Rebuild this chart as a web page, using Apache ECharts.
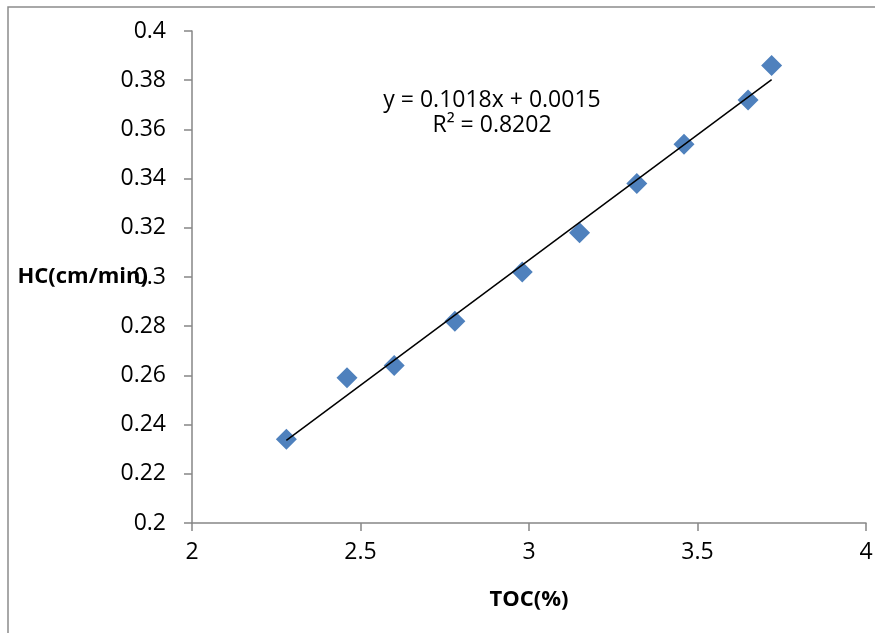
<!DOCTYPE html>
<html>
<head>
<meta charset="utf-8">
<script src="https://cdn.jsdelivr.net/npm/echarts@6/dist/echarts.min.js"></script>
<style>
  html, body { margin: 0; padding: 0; background: #fff; }
  #chart { width: 875px; height: 633px; }
</style>
</head>
<body>
<div id="chart"></div>
<script>
// 数据
const tocVals = [2.28, 2.46, 2.60, 2.78, 2.98, 3.15, 3.32, 3.46, 3.65, 3.72];
const hcVals = [0.234, 0.259, 0.264, 0.282, 0.302, 0.318, 0.338, 0.354, 0.372, 0.386];
const xTicks = [2, 4, 0.5];      // min, max, interval
const yTicks = [0.2, 0.4, 0.02];
// 趋势线 y = 0.1018x + 0.0015
const slope = 0.1018;
const intercept = 0.0015;
const eqText = ['y = 0.1018x + 0.0015', 'R² = 0.8202'];

const font = "'Open Sans', sans-serif";
const axisGray = '#868686';

const points = tocVals.map((x, i) => [x, hcVals[i]]);
const xMin = Math.min(...tocVals), xMax = Math.max(...tocVals);
const trend = [[xMin, slope * xMin + intercept], [xMax, slope * xMax + intercept]];

const chart = echarts.init(document.getElementById('chart'));
chart.setOption({
  animation: false,
  backgroundColor: '#fff',
  grid: { left: 192, right: 9, top: 31, bottom: 110, containLabel: false, outerBoundsMode: 'none' },
  xAxis: {
    type: 'value',
    min: xTicks[0], max: xTicks[1], interval: xTicks[2],
    name: 'TOC(%)',
    nameLocation: 'middle',
    nameGap: 66,
    nameMoveOverlap: false,
    nameTextStyle: { fontFamily: font, fontSize: 22, fontWeight: 'bold', color: '#000' },
    axisLine: { lineStyle: { color: axisGray, width: 1.5 } },
    axisTick: { show: true, length: 8, lineStyle: { color: axisGray, width: 1.5 } },
    axisLabel: { fontFamily: font, fontSize: 23, color: '#000', margin: 18 },
    splitLine: { show: false }
  },
  yAxis: {
    type: 'value',
    min: yTicks[0], max: yTicks[1], interval: yTicks[2],
    name: 'HC(cm/min)',
    nameLocation: 'middle',
    nameRotate: 0,
    nameGap: 44,
    nameMoveOverlap: false,
    nameTextStyle: { fontFamily: font, fontSize: 22, fontWeight: 'bold', color: '#000' },
    axisLine: { show: true, lineStyle: { color: axisGray, width: 1.5 } },
    axisTick: { show: true, length: 8, lineStyle: { color: axisGray, width: 1.5 } },
    axisLabel: {
      fontFamily: font, fontSize: 23, color: '#000', margin: 26,
      formatter: v => String(+v.toFixed(2))
    },
    splitLine: { show: false }
  },
  graphic: [
    // 外框
    {
      type: 'rect',
      shape: { x: 8, y: 7, width: 900, height: 700 },
      style: { fill: 'none', stroke: '#8c8c8c', lineWidth: 1.5 },
      silent: true
    },
    {
      type: 'text',
      x: 492, y: 88,
      style: {
        text: eqText.join('\n'),
        align: 'center',
        fontFamily: font, fontSize: 23, lineHeight: 25, fill: '#000'
      }
    }
  ],
  series: [
    {
      name: 'HC',
      type: 'scatter',
      data: points,
      symbol: 'diamond',
      symbolSize: [21, 21],
      itemStyle: { color: '#4f81bd', opacity: 1 },
      z: 2
    },
    {
      name: 'trend',
      type: 'line',
      data: trend,
      symbol: 'none',
      lineStyle: { color: '#000', width: 1.5 },
      z: 3
    }
  ]
});
</script>
</body>
</html>
